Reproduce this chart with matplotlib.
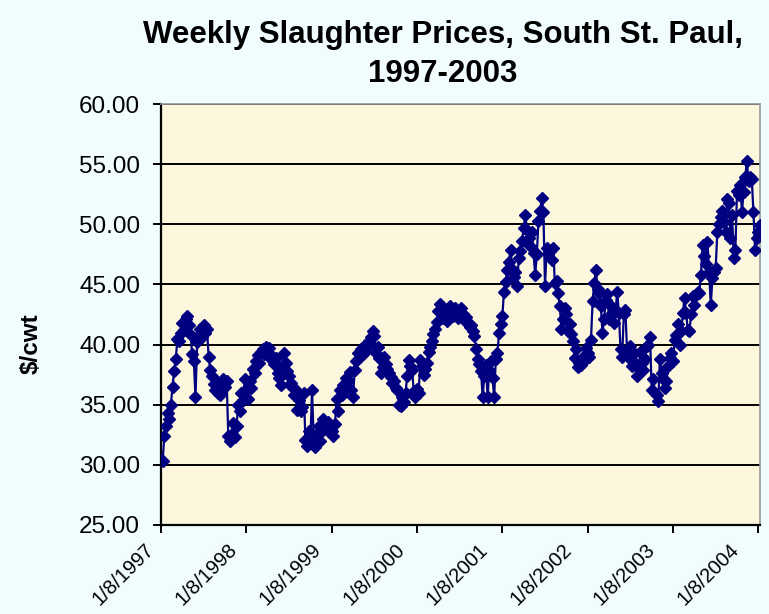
import matplotlib
matplotlib.use("Agg")
import matplotlib.pyplot as plt
import matplotlib.transforms as mtransforms
import numpy as np

plt.rcParams['font.family'] = ['Liberation Sans', 'DejaVu Sans']

# weekly prices, $/cwt (one list per year)
p1997 = [30.4, 30.3, 32.4, 33.2, 34.3, 33.8, 35.0, 36.5, 37.8, 38.8,
         40.5, 40.3, 41.0, 41.8, 41.2, 42.1, 42.4, 41.6, 40.8, 39.2,
         38.6, 35.6, 40.2, 40.8, 41.3, 40.6, 41.6, 41.0, 41.3, 39.0,
         37.9, 37.4, 36.7, 36.2, 36.9, 36.0, 35.8, 36.6, 37.1, 36.5,
         37.0, 32.4, 32.0, 32.6, 33.5, 32.3, 33.2, 35.0, 34.5, 36.0,
         35.4, 37.1]
p1998 = [36.3, 35.5, 37.0, 36.4, 38.0, 37.6, 38.6, 39.1, 38.5, 39.4,
         39.6, 39.2, 39.8, 39.3, 39.7, 38.8, 39.0, 38.4, 38.9, 37.6,
         37.2, 36.6, 38.2, 39.3, 38.5, 37.8, 37.4, 36.8, 36.5, 35.8,
         36.2, 34.6, 35.4, 34.5, 34.8, 36.0, 32.1, 31.6, 32.8, 31.8,
         36.2, 32.3, 31.5, 32.6, 33.2, 32.0, 32.8, 33.8, 33.3, 32.9,
         33.6, 32.7]
p1999 = [32.8, 32.4, 33.4, 35.5, 34.5, 36.2, 35.8, 36.6, 36.3, 37.2,
         37.0, 37.7, 36.2, 35.6, 37.9, 38.6, 39.3, 39.0, 39.6, 39.2,
         40.0, 39.5, 39.8, 40.3, 40.6, 41.1, 40.7, 39.3, 39.8, 38.9,
         37.6, 38.1, 39.0, 38.4, 38.0, 37.6, 37.3, 36.8, 37.0, 36.4,
         36.2, 35.0, 34.9, 35.6, 35.2, 36.0, 37.4, 38.7, 38.2, 37.9,
         36.1, 35.6]
p2000 = [36.3, 36.0, 38.7, 38.2, 37.5, 38.0, 38.5, 39.4, 39.8, 40.3,
         40.9, 41.3, 41.9, 42.8, 43.4, 42.5, 42.2, 42.7, 42.0, 42.4,
         43.2, 42.8, 42.4, 43.0, 42.6, 42.2, 42.7, 43.0, 42.5, 42.0,
         42.3, 41.8, 41.5, 41.6, 41.1, 40.7, 39.6, 38.8, 38.4, 37.8,
         35.6, 37.4, 38.3, 35.6, 37.9, 38.6, 37.2, 35.6, 38.8, 39.3,
         41.0, 41.7]
p2001 = [42.4, 44.4, 45.2, 46.2, 46.9, 47.9, 46.3, 45.6, 46.0, 44.9,
         47.2, 47.8, 48.6, 49.7, 50.8, 49.5, 48.9, 48.2, 49.4, 47.6,
         45.8, 47.5, 50.3, 51.1, 52.2, 51.0, 44.9, 48.0, 47.5, 47.8,
         47.0, 48.0, 45.1, 45.3, 44.3, 43.2, 41.3, 42.1, 43.0, 42.5,
         41.1, 41.7, 40.9, 40.3, 38.9, 39.6, 38.1, 38.5, 38.3, 39.0,
         38.6, 39.7]
p2002 = [39.3, 39.0, 40.4, 43.6, 45.1, 46.2, 44.6, 44.3, 43.2, 41.0,
         42.1, 43.7, 44.2, 42.1, 43.2, 42.6, 41.8, 42.8, 44.4, 42.6,
         39.6, 39.0, 42.5, 42.9, 39.3, 38.9, 39.9, 38.2, 39.3, 38.5,
         37.4, 38.0, 39.4, 38.5, 37.9, 38.8, 39.9, 40.0, 40.6, 36.2,
         37.1, 36.0, 35.8, 35.3, 38.8, 37.6, 37.1, 36.4, 37.0, 38.2,
         38.9, 39.3]
p2003 = [38.6, 40.4, 40.8, 41.7, 40.0, 41.1, 42.6, 43.9, 42.6, 41.2,
         41.1, 42.5, 44.0, 43.3, 44.1, 44.4, 44.3, 45.8, 48.3, 47.4,
         46.7, 48.5, 46.0, 43.3, 45.5, 46.0, 46.4, 49.4, 50.0, 50.6,
         51.1, 50.2, 49.4, 52.1, 51.8, 48.9, 50.8, 47.2, 47.9, 52.8,
         52.4, 53.3, 51.0, 52.7, 53.9, 55.3, 53.6, 53.9, 53.75, 51.0,
         47.9, 48.9, 49.4, 49.9]

tick_labels = ["1/8/1997", "1/8/1998", "1/8/1999", "1/8/2000",
               "1/8/2001", "1/8/2002", "1/8/2003", "1/8/2004"]

prices = p1997 + p1998 + p1999 + p2000 + p2001 + p2002 + p2003
weeks = np.arange(len(prices))
tick_pos = np.arange(0, 52 * len(tick_labels), 52)

fig = plt.figure(figsize=(7.69, 6.14), dpi=100)
fig.patch.set_facecolor("#F0FCFE")
ax = fig.add_axes([0.2094, 0.145, 0.7789, 0.6856])
ax.set_facecolor("#FCF6DC")

ax.plot(weeks, prices, color="#000080", lw=1.6, marker="D", ms=6.5,
        mec="#000080", mfc="#000080", zorder=3)

ax.set_xlim(0, len(prices) - 1)
ax.set_ylim(25, 60)
ax.set_yticks(np.arange(25, 61, 5))
ax.set_yticklabels(["%.2f" % v for v in np.arange(25, 61, 5)], fontsize=17.5)
ax.set_xticks(tick_pos)
ax.tick_params(axis="x", labelbottom=False)

# rotated date labels; Excel spaces them slightly tighter than the ticks,
# so each one sits a bit further left of its tick
for i, (pos, lab) in enumerate(zip(tick_pos, tick_labels)):
    dx = (-10 - 1.8 * i) / 100
    shift = mtransforms.ScaledTranslation(dx, -0.22, fig.dpi_scale_trans)
    ax.text(pos, 0, lab, transform=ax.get_xaxis_transform() + shift,
            rotation=45, ha="right", va="center", rotation_mode="anchor",
            fontsize=14.5, clip_on=False)

ax.yaxis.grid(True, color="black", lw=1.4)
ax.set_axisbelow(True)
ax.tick_params(axis="both", direction="out", length=6, width=1.4, colors="black")
ax.tick_params(axis="y", pad=9)

for s in ["top", "right"]:
    ax.spines[s].set_color("#999999")
    ax.spines[s].set_linewidth(1.2)
for s in ["left", "bottom"]:
    ax.spines[s].set_color("black")
    ax.spines[s].set_linewidth(1.6)

ax.set_ylabel("$/cwt", fontsize=17.5, fontweight="bold")
ax.yaxis.set_label_coords(-0.197, 0.43)
fig.text(443 / 769, 1 - 82 / 614,
         "Weekly Slaughter Prices, South St. Paul,\n1997-2003",
         ha="center", va="baseline", fontsize=22.5, fontweight="bold",
         linespacing=1.38, multialignment="center")

fig.savefig("out.png", dpi=100, facecolor=fig.get_facecolor())
